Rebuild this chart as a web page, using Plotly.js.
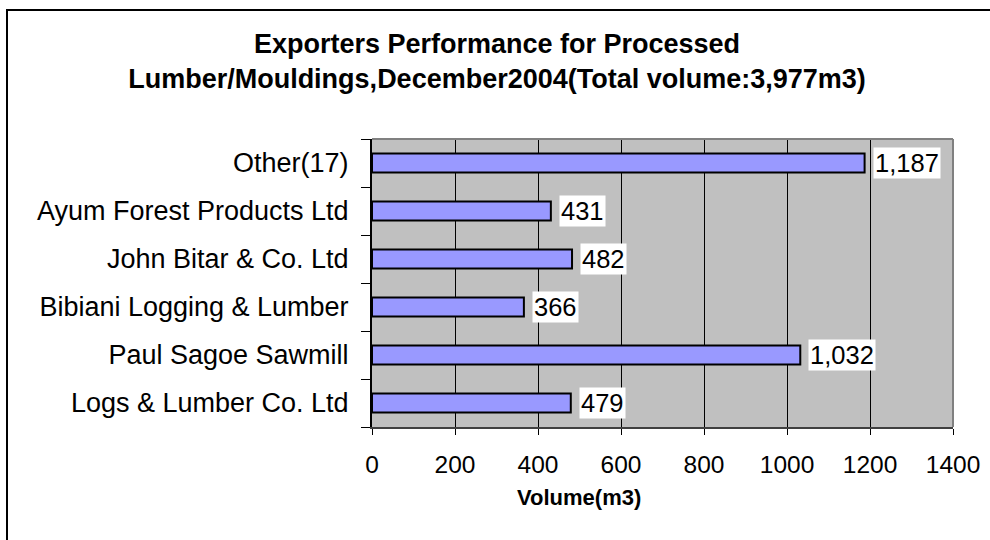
<!DOCTYPE html>
<html>
<head>
<meta charset="utf-8">
<script src="https://cdn.plot.ly/plotly-3.0.1.min.js"></script>
<style>
  html, body { margin: 0; padding: 0; background: #fff; }
  #wrap { position: relative; width: 990px; height: 540px; overflow: hidden; }
  #chart { width: 990px; height: 540px; }
  #frame { position: absolute; left: 6px; top: 9px; width: 1000px; height: 600px;
           border-left: 2px solid #000; border-top: 2px solid #000; pointer-events: none; }
</style>
</head>
<body>
<div id="wrap">
  <div id="chart"></div>
  <div id="frame"></div>
</div>
<script>
const categories = [
  "Logs & Lumber Co. Ltd",
  "Paul Sagoe Sawmill",
  "Bibiani Logging & Lumber",
  "John Bitar & Co. Ltd",
  "Ayum Forest Products Ltd",
  "Other(17)"
];
const volumes = [479, 1032, 366, 482, 431, 1187];
const xTickValues = [0, 200, 400, 600, 800, 1000, 1200, 1400];
const titleText = "<b>Exporters Performance for Processed<br>Lumber/Mouldings,December2004(Total volume:3,977m3)</b>";
const xTitle = "<b>Volume(m3)</b>";

const FONT = "Liberation Sans, Arial, sans-serif";

const trace = {
  type: "bar",
  orientation: "h",
  y: categories,
  x: volumes,
  marker: { color: "#9999FF", line: { color: "#000000", width: 2 } },
  hoverinfo: "x+y"
};

const annotations = categories.map((c, i) => ({
  x: volumes[i],
  y: c,
  xref: "x",
  yref: "y",
  text: volumes[i].toLocaleString("en-US"),
  showarrow: false,
  xanchor: "left",
  yanchor: "middle",
  xshift: 8,
  bgcolor: "#FFFFFF",
  borderpad: 1,
  font: { family: FONT, size: 25.5, color: "#000" }
}));

annotations.push({
  text: xTitle,
  xref: "paper", yref: "paper",
  x: (579 - 372) / 581, y: -(497 - 427) / 288,
  xanchor: "center", yanchor: "middle",
  showarrow: false,
  font: { family: FONT, size: 22, color: "#000" }
});

const layout = {
  width: 990,
  height: 540,
  paper_bgcolor: "#FFFFFF",
  plot_bgcolor: "#C0C0C0",
  margin: { l: 372, r: 37, t: 139, b: 113, pad: 0 },
  showlegend: false,
  bargap: 0.6,
  font: { family: FONT, color: "#000" },
  title: {
    text: titleText,
    font: { family: FONT, size: 27, color: "#000" },
    x: 497 / 990, xref: "container", xanchor: "center",
    y: 1 - 52.5 / 540, yref: "container", yanchor: "top"
  },
  xaxis: {
    range: [0, 1400],
    tickvals: xTickValues,
    ticktext: xTickValues.map(String),
    ticks: "outside",
    ticklen: 6,
    tickwidth: 1,
    tickcolor: "#000",
    tickfont: { size: 24.5, color: "#000" },
    ticklabelstandoff: 9,
    showgrid: true,
    gridcolor: "#000",
    gridwidth: 1,
    zeroline: false,
    showline: true,
    linecolor: "#404040",
    linewidth: 2
  },
  yaxis: {
    type: "category",
    tickson: "boundaries",
    ticks: "outside",
    ticklen: 9,
    tickwidth: 1,
    tickcolor: "#000",
    tickfont: { size: 27, color: "#000" },
    ticklabelstandoff: 16,
    showgrid: false,
    zeroline: false,
    showline: true,
    linecolor: "#000",
    linewidth: 2
  },
  shapes: [
    { type: "line", xref: "paper", yref: "paper", x0: 0, x1: 1, y0: 1, y1: 1,
      line: { color: "#808080", width: 2 } },
    { type: "line", xref: "paper", yref: "paper", x0: 1, x1: 1, y0: 0, y1: 1,
      line: { color: "#808080", width: 2 } }
  ],
  annotations: annotations
};

Plotly.newPlot("chart", [trace], layout, { displayModeBar: false, staticPlot: true });
</script>
</body>
</html>
